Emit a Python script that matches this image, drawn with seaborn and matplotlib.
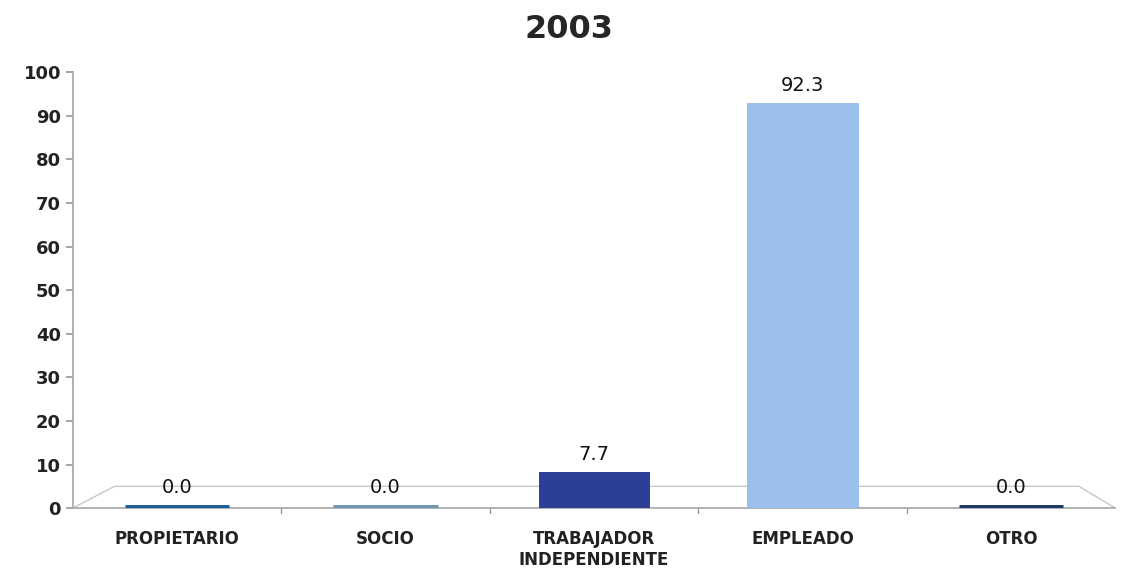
import matplotlib
matplotlib.use("Agg")
import matplotlib.pyplot as plt
import seaborn as sns
import pandas as pd

categorias = ["PROPIETARIO", "SOCIO", "TRABAJADOR\nINDEPENDIENTE", "EMPLEADO", "OTRO"]
valores = [0.0, 0.0, 7.7, 92.3, 0.0]
colores = ["#1c5d9a", "#6f95b0", "#2c3e96", "#9cc0ec", "#1b3a68"]
titulo = "2003"

df = pd.DataFrame({"categoria": categorias, "valor": valores})

sns.set_theme(style="white")
plt.rcParams["font.family"] = ["DejaVu Sans"]

fig = plt.figure(figsize=(11.37, 5.69), dpi=100)
ax = fig.add_axes([0.064, 0.107, 0.917, 0.766])

sns.barplot(data=df, x="categoria", y="valor", hue="categoria", palette=colores,
            legend=False, width=0.5, ax=ax, saturation=1)

# zero bars would vanish, so give every bar an edge in its own colour
for patch, c in zip(ax.patches, colores):
    patch.set_edgecolor(c)
    patch.set_linewidth(5)
    patch.set_zorder(3)

for i, v in enumerate(valores):
    ax.text(i, v + 2.5, f"{v:.1f}", ha="center", va="bottom", fontsize=14,
            color="#111111", zorder=4)

# floor of the 3d look
ax.plot([0, 0.04, 0.965, 1.0], [0, 0.05, 0.05, 0], transform=ax.transAxes,
        color="#c8c8c8", lw=1, clip_on=False, zorder=0.5)

ax.set_ylim(0, 100)
ax.set_xlim(-0.5, len(categorias) - 0.5)
ax.set_yticks(range(0, 101, 10))
ax.set_xticks(range(len(categorias)))
ax.set_xticklabels(categorias, fontsize=12, fontweight="bold", color="#222222")
ax.tick_params(axis="y", labelsize=13, colors="#222222", left=True, length=5, color="#9a9a9a")
ax.tick_params(axis="x", bottom=False, pad=10)
for lab in ax.get_yticklabels():
    lab.set_fontweight("bold")

# separators between categories on x axis
for b in [0.5, 1.5, 2.5, 3.5]:
    ax.plot([b, b], [0, -1.2], color="#9a9a9a", lw=1, clip_on=False)

ax.set_xlabel("")
ax.set_ylabel("")
for s in ["top", "right"]:
    ax.spines[s].set_visible(False)
for s in ["left", "bottom"]:
    ax.spines[s].set_color("#a8a8a8")

fig.suptitle(titulo, fontsize=23, fontweight="bold", y=0.975)

fig.savefig("out.png", dpi=100)
